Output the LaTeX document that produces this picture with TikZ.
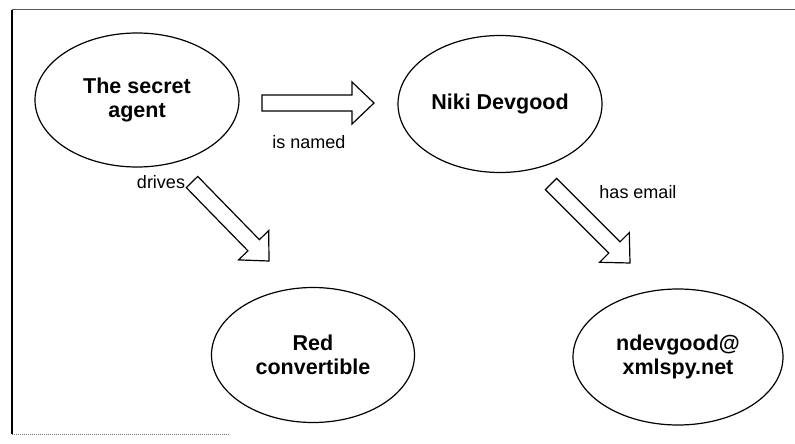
\documentclass[tikz,border=0pt]{standalone}
\usepackage{fontspec}
\setmainfont{Liberation Sans}
\usepackage{tikz}
\usetikzlibrary{calc,shapes.geometric}

\newcommand\conceptfont{\fontsize{21.5}{24}\selectfont\bfseries}
\newcommand\relfont{\fontsize{18}{21}\selectfont}

\tikzset{
  concept/.style={draw, line width=1.2pt, ellipse, inner sep=0pt, align=center, font=\conceptfont},
  rel/.style={font=\relfont, anchor=base},
  hollowarrow/.style={draw, line width=1.2pt, line join=miter,
    to path={($(\tikztostart)!8pt!90:(\tikztotarget)$)
      -- ($(\tikztotarget)!22pt!(\tikztostart)!8pt!90:(\tikztotarget)$)
      -- ($(\tikztotarget)!22pt!(\tikztostart)!21pt!90:(\tikztotarget)$)
      -- (\tikztotarget)
      -- ($(\tikztotarget)!22pt!(\tikztostart)!21pt!-90:(\tikztotarget)$)
      -- ($(\tikztotarget)!22pt!(\tikztostart)!8pt!-90:(\tikztotarget)$)
      -- ($(\tikztostart)!8pt!-90:(\tikztotarget)$) -- cycle}}
}

\begin{document}
\begin{tikzpicture}[x=1pt,y=-1pt]
\useasboundingbox[fill=white] (0,0) rectangle (795,444);
\draw[black!65, line width=1pt] (12,10) -- (795,10);
\draw[black, line width=1.6pt] (12,10) -- (12,434);
\draw[black!55, densely dotted, line width=1pt] (12,434) -- (230,434);

\node[concept, minimum width=204, minimum height=134] (agent) at (137,100) {The secret\\agent};
\node[concept, minimum width=204, minimum height=137] (niki) at (500,104) {Niki Devgood};
\node[concept, minimum width=203, minimum height=135] (car) at (313,355) {Red\\convertible};
\node[concept, minimum width=210, minimum height=136] (mail) at (678,357) {ndevgood@\\xmlspy.net};

\coordinate (namedtail) at (262,103);
\coordinate (namedtip) at (374,103);
\coordinate (drivestail) at (192,182);
\coordinate (drivestip) at (269,261);
\coordinate (emailtail) at (551,184);
\coordinate (emailtip) at (630,263);

\draw[hollowarrow] (namedtail) to (namedtip);
\draw[hollowarrow] (drivestail) to (drivestip);
\draw[hollowarrow] (emailtail) to (emailtip);

\node[rel] (namedlbl) at (309,148) {is named};
\node[rel] (driveslbl) at (161,188) {drives};
\node[rel] (emaillbl) at (638,198) {has email};
\end{tikzpicture}
\end{document}
